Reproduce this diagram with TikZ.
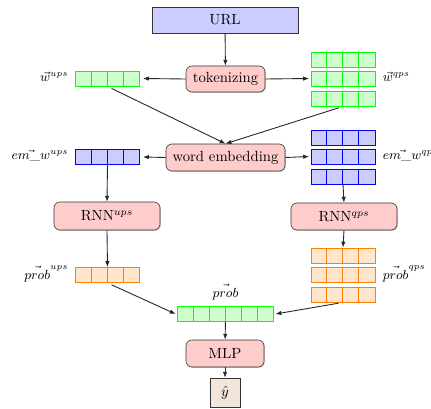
\documentclass[tikz,border=0pt]{standalone}
\usetikzlibrary{arrows.meta,shadows}
\tikzset{
  box/.style={draw=black!80, fill=#1, drop shadow={shadow xshift=0.6pt, shadow yshift=-0.6pt, opacity=0.4}, inner sep=0pt},
  rbox/.style={box=red!20, rounded corners=4pt},
  arr/.style={-{Latex[length=4pt,width=3pt]}, black!85, semithick},
  rowg/.style={draw=green, fill=green!20, line width=0.6pt, inner sep=0pt, minimum height=15*0.68pt},
  rowb/.style={draw=blue, fill=blue!20, line width=0.6pt, inner sep=0pt, minimum height=15*0.68pt},
  rowo/.style={draw=orange, fill=orange!20, line width=0.6pt, inner sep=0pt, minimum height=15*0.68pt},
  lab/.style={inner sep=1pt, font=\small},
}
\newcommand{\cellrow}[6]{% name, x, y, ncells, style, divider colour
  \node[#5, minimum width=#4*16*0.68pt] (#1) at (#2,#3) {};
  \foreach \k in {1,...,\numexpr#4-1\relax}{
    \draw[#6, line width=0.6pt] ([xshift=\k*16*0.68pt]#1.south west) -- ([xshift=\k*16*0.68pt]#1.north west);
  }
}
\begin{document}
\begin{tikzpicture}[x=0.68pt,y=-0.68pt]
\useasboundingbox[fill=white] (0,0) rectangle (431,408);

% main boxes
\node[box=blue!20, minimum width=146*0.68pt, minimum height=26*0.68pt] (url) at (225,20) {URL};
\node[rbox, minimum width=79*0.68pt, minimum height=26*0.68pt] (tok) at (225.5,79) {tokenizing};
\node[rbox, minimum width=119*0.68pt, minimum height=27*0.68pt] (emb) at (225.5,157.5) {word embedding};
\node[rbox, minimum width=106*0.68pt, minimum height=28*0.68pt] (rnnu) at (107,216) {RNN$^{ups}$};
\node[rbox, minimum width=106*0.68pt, minimum height=27*0.68pt] (rnnq) at (344,216.5) {RNN$^{qps}$};
\node[rbox, minimum width=78*0.68pt, minimum height=27*0.68pt] (mlp) at (225,353.5) {MLP};
\node[box=brown!20, minimum width=30*0.68pt, minimum height=29*0.68pt] (yhat) at (225,392.5) {$\hat{y}$};

% arrays
\cellrow{wu}{107.5}{78.5}{4}{rowg}{green}
\cellrow{wq1}{343}{59.5}{4}{rowg}{green}
\cellrow{wq2}{343}{78.5}{4}{rowg}{green}
\cellrow{wq3}{343}{98.5}{4}{rowg}{green}

\cellrow{eu}{107.5}{157}{4}{rowb}{blue}
\cellrow{eq1}{343}{137.5}{4}{rowb}{blue}
\cellrow{eq2}{343}{156.5}{4}{rowb}{blue}
\cellrow{eq3}{343}{176.5}{4}{rowb}{blue}

\cellrow{pu}{107.5}{275}{4}{rowo}{orange}
\cellrow{pq1}{343}{255.5}{4}{rowo}{orange}
\cellrow{pq2}{343}{274.5}{4}{rowo}{orange}
\cellrow{pq3}{343}{294.5}{4}{rowo}{orange}

\cellrow{pall}{225.5}{314}{6}{rowg}{green}

% labels
\node[lab, anchor=east] (lwu) at (70,77) {$\vec{w}^{ups}$};
\node[lab, anchor=west] (lwq) at (381,77) {$\vec{w}^{qps}$};
\node[lab, anchor=east] (leu) at (70,156) {$\vec{em\_w}^{ups}$};
\node[lab, anchor=west] (leq) at (381,156) {$\vec{em\_w}^{qps}$};
\node[lab, anchor=east] (lpu) at (70,274) {$\vec{prob}^{ups}$};
\node[lab, anchor=west] (lpq) at (381,274) {$\vec{prob}^{qps}$};
\node[lab] (lpall) at (225.5,292) {$\vec{prob}$};

% connectors
\draw[arr] (url) -- (tok);
\draw[arr] (tok.west) -- ([xshift=2pt]wu.east);
\draw[arr] (tok.east) -- ([xshift=-1pt]wq2.west);
\draw[arr, shorten <=3pt] (wu.south) -- (emb.north);
\draw[arr, shorten <=3pt] (wq3.south) -- (emb.north);
\draw[arr] (emb.west) -- ([xshift=2pt]eu.east);
\draw[arr] (emb.east) -- ([xshift=-1pt]eq2.west);
\draw[arr] (eu.south) -- (rnnu.north);
\draw[arr] (eq3.south) -- (rnnq.north);
\draw[arr] (rnnu.south) -- (pu.north);
\draw[arr] (rnnq.south) -- (pq1.north);
\draw[arr, shorten <=3pt] (pu.south) -- ([xshift=-1pt]pall.west);
\draw[arr, shorten <=3pt] (pq3.south) -- ([xshift=1pt]pall.east);
\draw[arr] (pall) -- (mlp);
\draw[arr] (mlp) -- (yhat);
\end{tikzpicture}
\end{document}
